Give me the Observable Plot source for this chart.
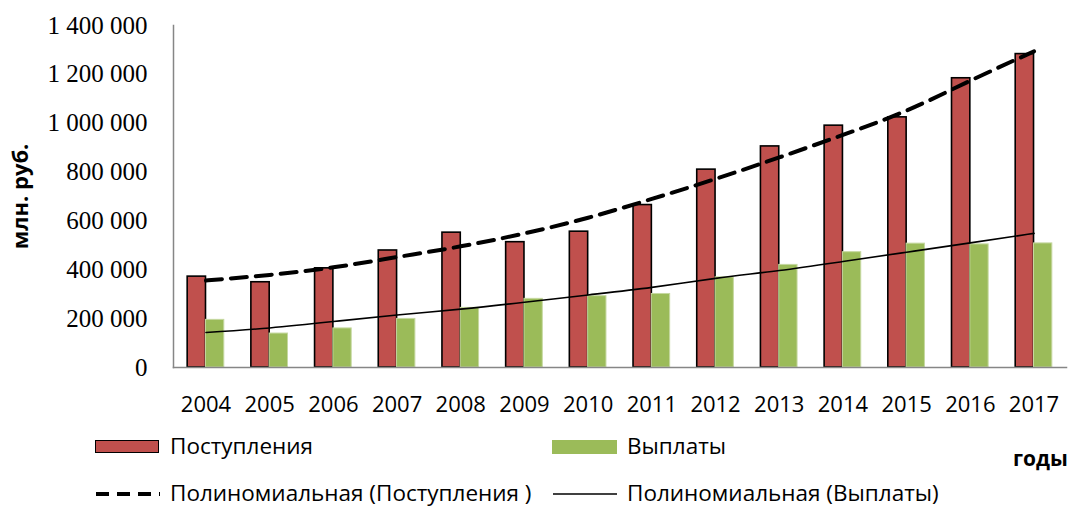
<!DOCTYPE html>
<html>
<head>
<meta charset="utf-8">
<script src="https://cdn.jsdelivr.net/npm/d3@7"></script>
<script src="https://cdn.jsdelivr.net/npm/@observablehq/plot@0.6"></script>
<style>
  html, body { margin: 0; padding: 0; background: #fff; }
  #wrap { position: relative; width: 1075px; height: 507px; overflow: hidden; }
  #legend { position: absolute; left: 0; top: 425px; width: 1075px; height: 82px;
            font-family: "Open Sans", sans-serif; font-size: 22.5px; color: #000; }
  .lg { position: absolute; white-space: nowrap; line-height: 1; }
  .sw { position: absolute; }
</style>
</head>
<body>
<div id="wrap">
  <div id="chart"></div>
  <div id="legend"></div>
</div>
<script>
const years = ["2004","2005","2006","2007","2008","2009","2010","2011","2012","2013","2014","2015","2016","2017"];
const inflow = [372000, 349000, 406000, 479000, 552000, 513000, 556000, 665000, 810000, 905000, 990000, 1024000, 1184000, 1283000];
const outflow = [195000, 139000, 160000, 199000, 244000, 281000, 292000, 301000, 369000, 420000, 472000, 507000, 504000, 508000];
const trendIn = [356000, 379000, 410000, 452000, 496000, 549000, 613000, 690000, 772000, 860000, 952000, 1052000, 1174000, 1294000];
const trendOut = [143000, 162000, 188000, 215000, 239000, 267000, 297000, 328000, 365000, 397000, 434000, 472000, 510000, 549000];
const yTicks = [0, 200000, 400000, 600000, 800000, 1000000, 1200000, 1400000];

const seriesNames = ["Поступления", "Выплаты", "Полиномиальная (Поступления )", "Полиномиальная (Выплаты)"];
const yLabel = "млн. руб.";
const xLabel = "годы";

const rows = years.map((y, i) => ({year: y, inflow: inflow[i], outflow: outflow[i], tIn: trendIn[i], tOut: trendOut[i]}));

const fmt = d3.formatLocale({decimal: ",", thousands: "\u00a0", grouping: [3], currency: ["", ""]}).format(",");

const W = 1075, H = 425;
const halfBar = 18.3;

const chart = Plot.plot({
  width: W,
  height: H,
  marginLeft: 173,
  marginRight: 9,
  marginTop: 25,
  marginBottom: H - 367,
  style: {background: "transparent", overflow: "visible"},
  x: {type: "band", domain: years, paddingInner: 0.425, paddingOuter: 0.2225, align: 0.5, round: false},
  y: {domain: [0, 1400000]},
  marks: [
    Plot.barY(rows, {x: "year", y: "inflow", fill: "#C0504D", stroke: "#000", strokeWidth: 1.6, insetRight: halfBar}),
    Plot.barY(rows, {x: "year", y: "outflow", fill: "#9BBB59", stroke: "#C5D8A0", strokeWidth: 1, insetLeft: halfBar}),
    Plot.line(rows, {x: "year", y: "tIn", stroke: "#000", strokeWidth: 4, strokeDasharray: "16 9", curve: "natural"}),
    Plot.line(rows, {x: "year", y: "tOut", stroke: "#000", strokeWidth: 1.6, curve: "natural"}),
    Plot.frame({anchor: "left", stroke: "#868686", strokeWidth: 1.5}),
    Plot.frame({anchor: "bottom", stroke: "#868686", strokeWidth: 1.5}),
    Plot.axisY({ticks: yTicks, tickFormat: fmt, tickSize: 0, tickPadding: 26, fontSize: 25,
                fontFamily: "'Liberation Serif', serif", label: null, fill: "#000"}),
    Plot.axisX({tickSize: 0, tickPadding: 29, fontSize: 22, fontFamily: "'Open Sans', sans-serif", label: null, fill: "#000"}),
    Plot.text([yLabel], {frameAnchor: "left", textAnchor: "middle", dx: -153, rotate: -90, fontSize: 22, fontWeight: "bold",
                         fontFamily: "'Open Sans', sans-serif", fill: "#000"})
  ]
});
document.getElementById("chart").appendChild(chart);

// legend
const lg = document.getElementById("legend");
function add(html) { lg.insertAdjacentHTML("beforeend", html); }
add(`<div class="sw" style="left:95px;top:15px;width:62px;height:11px;background:#C0504D;border:1.6px solid #000"></div>`);
add(`<div class="lg" style="left:170px;top:10px">${seriesNames[0]}</div>`);
add(`<div class="sw" style="left:552px;top:15px;width:65px;height:14px;background:#9BBB59"></div>`);
add(`<div class="lg" style="left:627px;top:10px">${seriesNames[1]}</div>`);
add(`<svg class="sw" style="left:95px;top:64px" width="66" height="10"><line x1="1" y1="5" x2="65" y2="5" stroke="#000" stroke-width="4" stroke-dasharray="13 8"/></svg>`);
add(`<div class="lg" style="left:170px;top:57px">${seriesNames[2]}</div>`);
add(`<svg class="sw" style="left:553px;top:64px" width="66" height="10"><line x1="0" y1="5" x2="64" y2="5" stroke="#000" stroke-width="1.6"/></svg>`);
add(`<div class="lg" style="left:627px;top:57px">${seriesNames[3]}</div>`);
add(`<div class="lg" style="left:1013px;top:23px;font-weight:bold;font-size:21px">${xLabel}</div>`);
</script>
</body>
</html>
